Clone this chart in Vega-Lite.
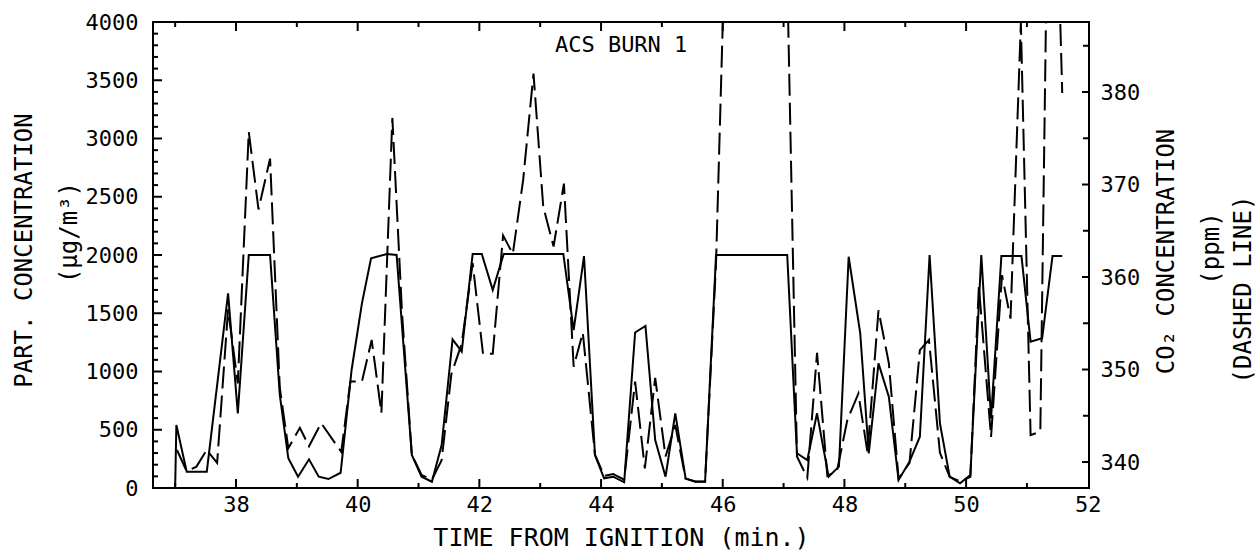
{
  "$schema": "https://vega.github.io/schema/vega-lite/v6.json",
  "width": 936,
  "height": 466,
  "autosize": {"type": "none"},
  "padding": {"left": 153, "top": 22, "right": 170, "bottom": 68},
  "background": "white",
  "config": {
    "view": {"stroke": "black", "strokeWidth": 2},
    "axis": {
      "domain": false, "grid": false, "ticks": false,
      "labelColor": "black", "titleColor": "black",
      "labelFont": "DejaVu Sans Mono", "titleFont": "DejaVu Sans Mono",
      "labelFontSize": 22, "titleFontSize": 24, "titleFontWeight": "normal",
      "labelFlush": false, "labelOverlap": false, "format": "d"
    }
  },
  "datasets": {
    "part": [
      {"t": 37.00, "v": 0}, {"t": 37.02, "v": 541}, {"t": 37.19, "v": 140}, {"t": 37.52, "v": 140},
      {"t": 37.87, "v": 1671}, {"t": 38.03, "v": 641}, {"t": 38.21, "v": 2000}, {"t": 38.56, "v": 2000},
      {"t": 38.72, "v": 800}, {"t": 38.86, "v": 255}, {"t": 39.02, "v": 97}, {"t": 39.20, "v": 246},
      {"t": 39.36, "v": 97}, {"t": 39.52, "v": 77}, {"t": 39.72, "v": 131}, {"t": 39.90, "v": 1013},
      {"t": 40.07, "v": 1585}, {"t": 40.22, "v": 1971}, {"t": 40.48, "v": 2009}, {"t": 40.64, "v": 2000},
      {"t": 40.89, "v": 283}, {"t": 41.05, "v": 97}, {"t": 41.22, "v": 54}, {"t": 41.38, "v": 369},
      {"t": 41.56, "v": 1276}, {"t": 41.71, "v": 1170}, {"t": 41.89, "v": 2009}, {"t": 42.04, "v": 2009},
      {"t": 42.22, "v": 1700}, {"t": 42.40, "v": 2009}, {"t": 43.38, "v": 2009}, {"t": 43.55, "v": 1356},
      {"t": 43.72, "v": 1991}, {"t": 43.90, "v": 283}, {"t": 44.05, "v": 83}, {"t": 44.20, "v": 97},
      {"t": 44.38, "v": 49}, {"t": 44.56, "v": 1335}, {"t": 44.73, "v": 1391}, {"t": 44.89, "v": 412},
      {"t": 45.06, "v": 97}, {"t": 45.22, "v": 641}, {"t": 45.39, "v": 83}, {"t": 45.55, "v": 54},
      {"t": 45.71, "v": 54}, {"t": 45.89, "v": 2000}, {"t": 47.06, "v": 2000}, {"t": 47.22, "v": 298},
      {"t": 47.39, "v": 240}, {"t": 47.55, "v": 641}, {"t": 47.74, "v": 97}, {"t": 47.91, "v": 183},
      {"t": 48.07, "v": 1985}, {"t": 48.26, "v": 1328}, {"t": 48.40, "v": 298}, {"t": 48.56, "v": 1070},
      {"t": 48.73, "v": 784}, {"t": 48.89, "v": 69}, {"t": 49.07, "v": 226}, {"t": 49.24, "v": 440},
      {"t": 49.40, "v": 2000}, {"t": 49.57, "v": 555}, {"t": 49.73, "v": 97}, {"t": 49.90, "v": 40},
      {"t": 50.07, "v": 112}, {"t": 50.25, "v": 2000}, {"t": 50.41, "v": 598}, {"t": 50.58, "v": 1991},
      {"t": 50.91, "v": 1991}, {"t": 51.06, "v": 1256}, {"t": 51.25, "v": 1285}, {"t": 51.42, "v": 1991},
      {"t": 51.58, "v": 1991}
    ],
    "co2": [
      {"t": 37.03, "c": 341.3}, {"t": 37.19, "c": 339.0}, {"t": 37.35, "c": 339.5}, {"t": 37.52, "c": 341.3},
      {"t": 37.69, "c": 339.9}, {"t": 37.87, "c": 356.5}, {"t": 38.03, "c": 348.5}, {"t": 38.21, "c": 375.7},
      {"t": 38.37, "c": 367.3}, {"t": 38.56, "c": 372.8}, {"t": 38.72, "c": 348.0}, {"t": 38.86, "c": 341.5},
      {"t": 39.05, "c": 343.7}, {"t": 39.20, "c": 341.7}, {"t": 39.40, "c": 344.2}, {"t": 39.73, "c": 341.1},
      {"t": 39.88, "c": 348.7}, {"t": 40.07, "c": 348.7}, {"t": 40.23, "c": 353.2}, {"t": 40.39, "c": 345.3},
      {"t": 40.57, "c": 377.2}, {"t": 40.73, "c": 356.0}, {"t": 40.89, "c": 340.8}, {"t": 41.05, "c": 338.6},
      {"t": 41.22, "c": 338.1}, {"t": 41.38, "c": 340.2}, {"t": 41.54, "c": 349.5}, {"t": 41.71, "c": 352.8},
      {"t": 41.89, "c": 361.5}, {"t": 42.06, "c": 351.7}, {"t": 42.22, "c": 351.7}, {"t": 42.39, "c": 364.5},
      {"t": 42.55, "c": 362.5}, {"t": 42.72, "c": 370.5}, {"t": 42.89, "c": 382.0}, {"t": 43.05, "c": 367.6},
      {"t": 43.22, "c": 363.3}, {"t": 43.39, "c": 370.1}, {"t": 43.55, "c": 350.3}, {"t": 43.70, "c": 354.0},
      {"t": 43.90, "c": 340.8}, {"t": 44.05, "c": 338.5}, {"t": 44.20, "c": 338.7}, {"t": 44.38, "c": 338.1},
      {"t": 44.56, "c": 348.7}, {"t": 44.72, "c": 339.3}, {"t": 44.89, "c": 349.1}, {"t": 45.06, "c": 340.6},
      {"t": 45.22, "c": 344.0}, {"t": 45.39, "c": 338.2}, {"t": 45.55, "c": 337.9}, {"t": 45.71, "c": 337.9},
      {"t": 45.89, "c": 361.5}, {"t": 46.05, "c": 399.0}, {"t": 47.05, "c": 396.0}, {"t": 47.22, "c": 340.6},
      {"t": 47.39, "c": 338.3}, {"t": 47.55, "c": 351.8}, {"t": 47.72, "c": 338.5}, {"t": 47.88, "c": 339.1},
      {"t": 48.05, "c": 344.6}, {"t": 48.23, "c": 347.4}, {"t": 48.38, "c": 341.0}, {"t": 48.56, "c": 356.4},
      {"t": 48.73, "c": 350.7}, {"t": 48.89, "c": 338.2}, {"t": 49.07, "c": 339.9}, {"t": 49.24, "c": 352.1},
      {"t": 49.39, "c": 353.2}, {"t": 49.57, "c": 341.0}, {"t": 49.73, "c": 338.4}, {"t": 49.90, "c": 337.9},
      {"t": 50.07, "c": 338.4}, {"t": 50.21, "c": 359.0}, {"t": 50.41, "c": 342.7}, {"t": 50.59, "c": 360.2},
      {"t": 50.73, "c": 355.5}, {"t": 50.90, "c": 387.5}, {"t": 51.06, "c": 342.9}, {"t": 51.22, "c": 343.3},
      {"t": 51.39, "c": 425.0}, {"t": 51.58, "c": 379.9}
    ],
    "pmajor": [{"v": 500}, {"v": 1000}, {"v": 1500}, {"v": 2000}, {"v": 2500}, {"v": 3000}, {"v": 3500}],
    "pminor": [{"v": 100}, {"v": 200}, {"v": 300}, {"v": 400}, {"v": 600}, {"v": 700}, {"v": 800}, {"v": 900},
      {"v": 1100}, {"v": 1200}, {"v": 1300}, {"v": 1400}, {"v": 1600}, {"v": 1700}, {"v": 1800}, {"v": 1900},
      {"v": 2100}, {"v": 2200}, {"v": 2300}, {"v": 2400}, {"v": 2600}, {"v": 2700}, {"v": 2800}, {"v": 2900},
      {"v": 3100}, {"v": 3200}, {"v": 3300}, {"v": 3400}, {"v": 3600}, {"v": 3700}, {"v": 3800}, {"v": 3900}],
    "cmajor": [{"c": 340}, {"c": 350}, {"c": 360}, {"c": 370}, {"c": 380}],
    "cminor": [{"c": 345}, {"c": 355}, {"c": 365}, {"c": 375}, {"c": 385}],
    "tmajor": [{"t": 38}, {"t": 40}, {"t": 42}, {"t": 44}, {"t": 46}, {"t": 48}, {"t": 50}],
    "tminor": [{"t": 37}, {"t": 39}, {"t": 41}, {"t": 43}, {"t": 45}, {"t": 47}, {"t": 49}, {"t": 51}]
  },
  "layer": [
    {
      "data": {"name": "part"},
      "mark": {"type": "line", "color": "black", "strokeWidth": 2, "clip": true},
      "encoding": {
        "x": {"field": "t", "type": "quantitative",
          "scale": {"domain": [36.636, 52.02], "nice": false, "zero": false},
          "axis": {"orient": "bottom", "values": [38, 40, 42, 44, 46, 48, 50, 52], "labelPadding": 6,
            "title": "TIME FROM IGNITION (min.)", "titleFontSize": 25, "titleX": 468, "titleY": 57, "titleBaseline": "alphabetic", "titleAlign": "center"}},
        "y": {"field": "v", "type": "quantitative",
          "scale": {"domain": [0, 4000], "nice": false},
          "axis": {"orient": "left", "values": [0, 500, 1000, 1500, 2000, 2500, 3000, 3500, 4000], "labelPadding": 15,
            "title": "PART. CONCENTRATION", "titleX": -129, "titleY": 228, "titleAngle": -90, "titleBaseline": "middle", "titleAlign": "center"}}
      }
    },
    {
      "data": {"name": "co2"},
      "mark": {"type": "line", "color": "black", "strokeWidth": 2, "strokeDash": [22, 7], "clip": true},
      "encoding": {
        "x": {"field": "t", "type": "quantitative",
          "scale": {"domain": [36.636, 52.02], "nice": false, "zero": false}, "axis": null},
        "y": {"field": "c", "type": "quantitative",
          "scale": {"domain": [337.19, 387.57], "nice": false, "zero": false},
          "axis": {"orient": "right", "values": [340, 350, 360, 370, 380], "labelPadding": 11,
            "title": "CO₂ CONCENTRATION", "titleX": 77, "titleY": 229, "titleAngle": -90, "titleBaseline": "middle", "titleAlign": "center"}}
      }
    },
    {
      "data": {"name": "pmajor"},
      "mark": {"type": "tick", "orient": "horizontal", "size": 9, "thickness": 2, "color": "black", "opacity": 1, "xOffset": 4.5},
      "encoding": {
        "x": {"datum": 36.636, "type": "quantitative", "scale": {"domain": [36.636, 52.02], "nice": false, "zero": false}, "axis": null},
        "y": {"field": "v", "type": "quantitative", "scale": {"domain": [0, 4000], "nice": false}, "axis": null}
      }
    },
    {
      "data": {"name": "pminor"},
      "mark": {"type": "tick", "orient": "horizontal", "size": 5, "thickness": 2, "color": "black", "opacity": 1, "xOffset": 2.5},
      "encoding": {
        "x": {"datum": 36.636, "type": "quantitative", "scale": {"domain": [36.636, 52.02], "nice": false, "zero": false}, "axis": null},
        "y": {"field": "v", "type": "quantitative", "scale": {"domain": [0, 4000], "nice": false},
          "axis": {"orient": "left", "labels": false, "title": "(μg/m³)", "titleX": -84, "titleY": 210, "titleAngle": -90, "titleBaseline": "middle", "titleAlign": "center"}}
      }
    },
    {
      "data": {"name": "cmajor"},
      "mark": {"type": "tick", "orient": "horizontal", "size": 7, "thickness": 2, "color": "black", "opacity": 1, "xOffset": -3.5},
      "encoding": {
        "x": {"datum": 52.02, "type": "quantitative", "scale": {"domain": [36.636, 52.02], "nice": false, "zero": false}, "axis": null},
        "y": {"field": "c", "type": "quantitative", "scale": {"domain": [337.19, 387.57], "nice": false, "zero": false},
          "axis": {"orient": "right", "labels": false, "title": "(ppm)", "titleX": 122, "titleY": 226, "titleAngle": -90, "titleBaseline": "middle", "titleAlign": "center"}}
      }
    },
    {
      "data": {"name": "cminor"},
      "mark": {"type": "tick", "orient": "horizontal", "size": 6, "thickness": 2, "color": "black", "opacity": 1, "xOffset": -3},
      "encoding": {
        "x": {"datum": 52.02, "type": "quantitative", "scale": {"domain": [36.636, 52.02], "nice": false, "zero": false}, "axis": null},
        "y": {"field": "c", "type": "quantitative", "scale": {"domain": [337.19, 387.57], "nice": false, "zero": false},
          "axis": {"orient": "right", "labels": false, "title": "(DASHED LINE)", "titleX": 154, "titleY": 267, "titleAngle": -90, "titleBaseline": "middle", "titleAlign": "center"}}
      }
    },
    {
      "data": {"name": "tmajor"},
      "mark": {"type": "tick", "orient": "vertical", "size": 9, "thickness": 2, "color": "black", "opacity": 1, "yOffset": -4.5},
      "encoding": {
        "x": {"field": "t", "type": "quantitative", "scale": {"domain": [36.636, 52.02], "nice": false, "zero": false}, "axis": null},
        "y": {"datum": 0, "type": "quantitative", "scale": {"domain": [0, 4000], "nice": false}, "axis": null}
      }
    },
    {
      "data": {"name": "tminor"},
      "mark": {"type": "tick", "orient": "vertical", "size": 5, "thickness": 2, "color": "black", "opacity": 1, "yOffset": -2.5},
      "encoding": {
        "x": {"field": "t", "type": "quantitative", "scale": {"domain": [36.636, 52.02], "nice": false, "zero": false}, "axis": null},
        "y": {"datum": 0, "type": "quantitative", "scale": {"domain": [0, 4000], "nice": false}, "axis": null}
      }
    },
    {
      "data": {"name": "tmajor"},
      "mark": {"type": "tick", "orient": "vertical", "size": 9, "thickness": 2, "color": "black", "opacity": 1, "yOffset": 4.5},
      "encoding": {
        "x": {"field": "t", "type": "quantitative", "scale": {"domain": [36.636, 52.02], "nice": false, "zero": false}, "axis": null},
        "y": {"datum": 4000, "type": "quantitative", "scale": {"domain": [0, 4000], "nice": false}, "axis": null}
      }
    },
    {
      "data": {"name": "tminor"},
      "mark": {"type": "tick", "orient": "vertical", "size": 5, "thickness": 2, "color": "black", "opacity": 1, "yOffset": 2.5},
      "encoding": {
        "x": {"field": "t", "type": "quantitative", "scale": {"domain": [36.636, 52.02], "nice": false, "zero": false}, "axis": null},
        "y": {"datum": 4000, "type": "quantitative", "scale": {"domain": [0, 4000], "nice": false}, "axis": null}
      }
    },
    {
      "data": {"values": [{"label": "ACS BURN 1"}]},
      "mark": {"type": "text", "font": "DejaVu Sans Mono", "fontSize": 22, "color": "black", "baseline": "middle", "align": "center"},
      "encoding": {
        "x": {"datum": 44.33, "type": "quantitative", "scale": {"domain": [36.636, 52.02], "nice": false, "zero": false}, "axis": null},
        "y": {"datum": 3800, "type": "quantitative", "scale": {"domain": [0, 4000], "nice": false}, "axis": null},
        "text": {"field": "label"}
      }
    }
  ],
  "resolve": {"scale": {"x": "independent", "y": "independent"}}
}
